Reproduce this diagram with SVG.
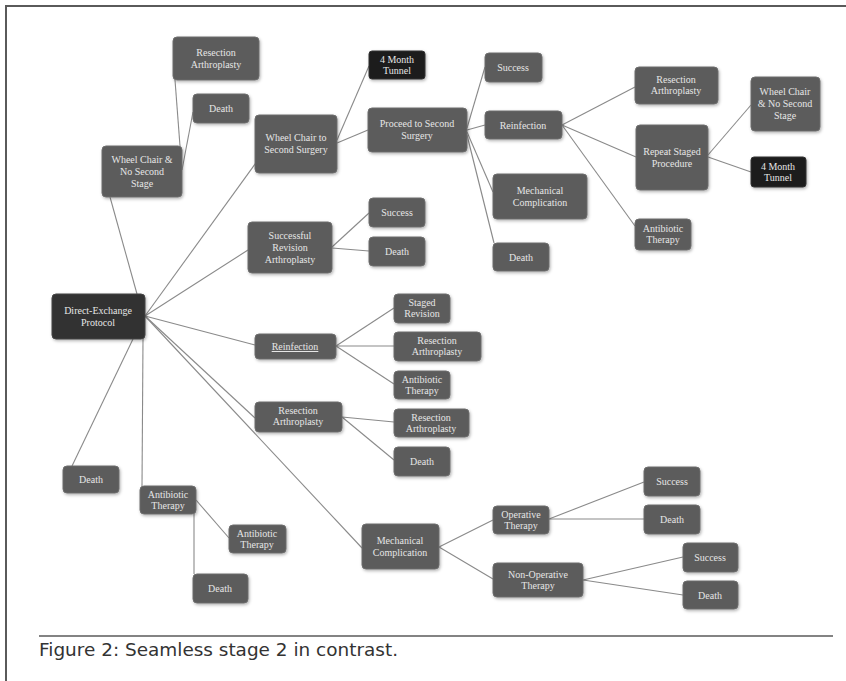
<svg xmlns="http://www.w3.org/2000/svg" width="846" height="681" viewBox="0 0 846 681">
<defs>
<filter id="sh" x="-20%" y="-20%" width="140%" height="140%">
<feDropShadow dx="1" dy="1.5" stdDeviation="1.5" flood-color="#000" flood-opacity="0.3"/>
</filter>
<style>
.n{fill:#5b5b5b;stroke:#6e6e6e;stroke-width:1;filter:url(#sh)}
.k{fill:#1c1c1c;stroke:#333;stroke-width:1;filter:url(#sh)}
.d{fill:#323232;stroke:#444;stroke-width:1;filter:url(#sh)}
.t{font-family:"Liberation Serif","DejaVu Serif",serif;font-size:10px;fill:#e6e6e6;text-anchor:middle}
.c line{stroke:#8a8a8a;stroke-width:1.1}
.frame{stroke:#5a5a5a;stroke-width:2;fill:none}
.cap{font-family:"DejaVu Sans",Verdana,sans-serif;font-size:17px;fill:#333}
</style>
</defs>
<rect width="846" height="681" fill="#fff"/>
<path class="frame" d="M6,681 V6 H846"/>
<line x1="39" y1="636" x2="833" y2="636" stroke="#5a5a5a" stroke-width="1.5"/>
<text class="cap" x="39" y="656" textLength="359" lengthAdjust="spacingAndGlyphs">Figure 2: Seamless stage 2 in contrast.</text>

<g id="connectors" class="c">
<line x1="137" y1="294" x2="110" y2="197"/>
<line x1="145" y1="316" x2="258" y2="160"/>
<line x1="145" y1="316" x2="248" y2="250"/>
<line x1="145" y1="316" x2="255" y2="345"/>
<line x1="145" y1="316" x2="255" y2="418"/>
<line x1="145" y1="316" x2="362" y2="548"/>
<line x1="133" y1="339" x2="72" y2="466"/>
<line x1="143" y1="339" x2="142" y2="486"/>
<line x1="180" y1="146" x2="175" y2="80"/>
<line x1="182" y1="170" x2="193" y2="112"/>
<line x1="337" y1="140" x2="369" y2="66"/>
<line x1="337" y1="143" x2="368" y2="130"/>
<line x1="467" y1="128" x2="485" y2="67"/>
<line x1="467" y1="130" x2="485" y2="125"/>
<line x1="467" y1="132" x2="493" y2="192"/>
<line x1="467" y1="135" x2="494" y2="243"/>
<line x1="562" y1="125" x2="635" y2="87"/>
<line x1="562" y1="125" x2="636" y2="157"/>
<line x1="562" y1="125" x2="635" y2="226"/>
<line x1="708" y1="155" x2="751" y2="105"/>
<line x1="708" y1="157" x2="751" y2="172"/>
<line x1="332" y1="247" x2="369" y2="213"/>
<line x1="332" y1="248" x2="369" y2="251"/>
<line x1="336" y1="346" x2="394" y2="308"/>
<line x1="336" y1="346" x2="394" y2="346"/>
<line x1="336" y1="346" x2="394" y2="384"/>
<line x1="342" y1="417" x2="394" y2="422"/>
<line x1="342" y1="417" x2="394" y2="460"/>
<line x1="439" y1="547" x2="493" y2="520"/>
<line x1="439" y1="547" x2="493" y2="579"/>
<line x1="549" y1="519" x2="644" y2="482"/>
<line x1="549" y1="519" x2="644" y2="519"/>
<line x1="583" y1="580" x2="683" y2="557"/>
<line x1="583" y1="580" x2="683" y2="595"/>
<line x1="196" y1="500" x2="229" y2="538"/>
<line x1="194" y1="514" x2="194" y2="574"/>
</g>

<g id="n1"><rect class="n" x="173" y="37" width="86" height="43" rx="4"/><text class="t" x="216" y="56">Resection<tspan x="216" dy="12">Arthroplasty</tspan></text></g>
<g id="n2"><rect class="n" x="193" y="94" width="56" height="29" rx="4"/><text class="t" x="221" y="112">Death</text></g>
<g id="n3"><rect class="n" x="102" y="146" width="80" height="51" rx="4"/><text class="t" x="142" y="163">Wheel Chair &amp;<tspan x="142" dy="12">No Second</tspan><tspan x="142" dy="12">Stage</tspan></text></g>
<g id="n4"><rect class="n" x="255" y="115" width="82" height="58" rx="4"/><text class="t" x="296" y="141">Wheel Chair to<tspan x="296" dy="12">Second Surgery</tspan></text></g>
<g id="n5"><rect class="k" x="369" y="51" width="56" height="28" rx="3"/><text class="t" x="397" y="63">4 Month<tspan x="397" dy="11">Tunnel</tspan></text></g>
<g id="n6"><rect class="n" x="368" y="108" width="99" height="44" rx="4"/><text class="t" x="417" y="127">Proceed to Second<tspan x="417" dy="12">Surgery</tspan></text></g>
<g id="n7"><rect class="n" x="485" y="53" width="57" height="29" rx="4"/><text class="t" x="513" y="71">Success</text></g>
<g id="n8"><rect class="n" x="485" y="111" width="77" height="28" rx="4"/><text class="t" x="523" y="129">Reinfection</text></g>
<g id="n9"><rect class="n" x="493" y="174" width="94" height="45" rx="4"/><text class="t" x="540" y="194">Mechanical<tspan x="540" dy="12">Complication</tspan></text></g>
<g id="n10"><rect class="n" x="493" y="243" width="56" height="28" rx="4"/><text class="t" x="521" y="261">Death</text></g>
<g id="n11"><rect class="n" x="635" y="67" width="83" height="37" rx="4"/><text class="t" x="676" y="83">Resection<tspan x="676" dy="11">Arthroplasty</tspan></text></g>
<g id="n12"><rect class="n" x="636" y="125" width="72" height="65" rx="4"/><text class="t" x="672" y="155">Repeat Staged<tspan x="672" dy="12">Procedure</tspan></text></g>
<g id="n13"><rect class="n" x="635" y="219" width="56" height="31" rx="4"/><text class="t" x="663" y="232">Antibiotic<tspan x="663" dy="11">Therapy</tspan></text></g>
<g id="n14"><rect class="n" x="751" y="77" width="69" height="54" rx="4"/><text class="t" x="785" y="95">Wheel Chair<tspan x="785" dy="12">&amp; No Second</tspan><tspan x="785" dy="12">Stage</tspan></text></g>
<g id="n15"><rect class="k" x="751" y="157" width="55" height="30" rx="3"/><text class="t" x="778" y="170">4 Month<tspan x="778" dy="11">Tunnel</tspan></text></g>
<g id="n16"><rect class="n" x="248" y="222" width="84" height="51" rx="4"/><text class="t" x="290" y="239">Successful<tspan x="290" dy="12">Revision</tspan><tspan x="290" dy="12">Arthroplasty</tspan></text></g>
<g id="n17"><rect class="n" x="369" y="198" width="56" height="29" rx="4"/><text class="t" x="397" y="216">Success</text></g>
<g id="n18"><rect class="n" x="369" y="237" width="56" height="29" rx="4"/><text class="t" x="397" y="255">Death</text></g>
<g id="n19"><rect class="n" x="255" y="334" width="81" height="25" rx="4"/><text class="t" x="295" y="350" text-decoration="underline">Reinfection</text></g>
<g id="n20"><rect class="n" x="394" y="294" width="56" height="29" rx="4"/><text class="t" x="422" y="306">Staged<tspan x="422" dy="11">Revision</tspan></text></g>
<g id="n21"><rect class="n" x="394" y="332" width="87" height="29" rx="4"/><text class="t" x="437" y="344">Resection<tspan x="437" dy="11">Arthroplasty</tspan></text></g>
<g id="n22"><rect class="n" x="394" y="371" width="56" height="28" rx="4"/><text class="t" x="422" y="383">Antibiotic<tspan x="422" dy="11">Therapy</tspan></text></g>
<g id="n23"><rect class="n" x="394" y="409" width="75" height="28" rx="4"/><text class="t" x="431" y="421">Resection<tspan x="431" dy="11">Arthroplasty</tspan></text></g>
<g id="n24"><rect class="n" x="394" y="447" width="56" height="29" rx="4"/><text class="t" x="422" y="465">Death</text></g>
<g id="n25"><rect class="n" x="255" y="402" width="87" height="30" rx="4"/><text class="t" x="298" y="414">Resection<tspan x="298" dy="11">Arthroplasty</tspan></text></g>
<g id="n26"><rect class="d" x="52" y="294" width="93" height="45" rx="4"/><text class="t" x="98" y="314">Direct-Exchange<tspan x="98" dy="12">Protocol</tspan></text></g>
<g id="n27"><rect class="n" x="63" y="466" width="56" height="27" rx="4"/><text class="t" x="91" y="483">Death</text></g>
<g id="n28"><rect class="n" x="140" y="486" width="56" height="28" rx="4"/><text class="t" x="168" y="498">Antibiotic<tspan x="168" dy="11">Therapy</tspan></text></g>
<g id="n29"><rect class="n" x="229" y="525" width="57" height="28" rx="4"/><text class="t" x="257" y="537">Antibiotic<tspan x="257" dy="11">Therapy</tspan></text></g>
<g id="n30"><rect class="n" x="193" y="574" width="55" height="29" rx="4"/><text class="t" x="220" y="592">Death</text></g>
<g id="n31"><rect class="n" x="362" y="524" width="77" height="45" rx="4"/><text class="t" x="400" y="544">Mechanical<tspan x="400" dy="12">Complication</tspan></text></g>
<g id="n32"><rect class="n" x="493" y="506" width="56" height="28" rx="4"/><text class="t" x="521" y="518">Operative<tspan x="521" dy="11">Therapy</tspan></text></g>
<g id="n33"><rect class="n" x="493" y="563" width="90" height="34" rx="4"/><text class="t" x="538" y="578">Non-Operative<tspan x="538" dy="11">Therapy</tspan></text></g>
<g id="n34"><rect class="n" x="644" y="467" width="56" height="29" rx="4"/><text class="t" x="672" y="485">Success</text></g>
<g id="n35"><rect class="n" x="644" y="505" width="56" height="29" rx="4"/><text class="t" x="672" y="523">Death</text></g>
<g id="n36"><rect class="n" x="683" y="543" width="55" height="29" rx="4"/><text class="t" x="710" y="561">Success</text></g>
<g id="n37"><rect class="n" x="683" y="581" width="55" height="28" rx="4"/><text class="t" x="710" y="599">Death</text></g>
</svg>
